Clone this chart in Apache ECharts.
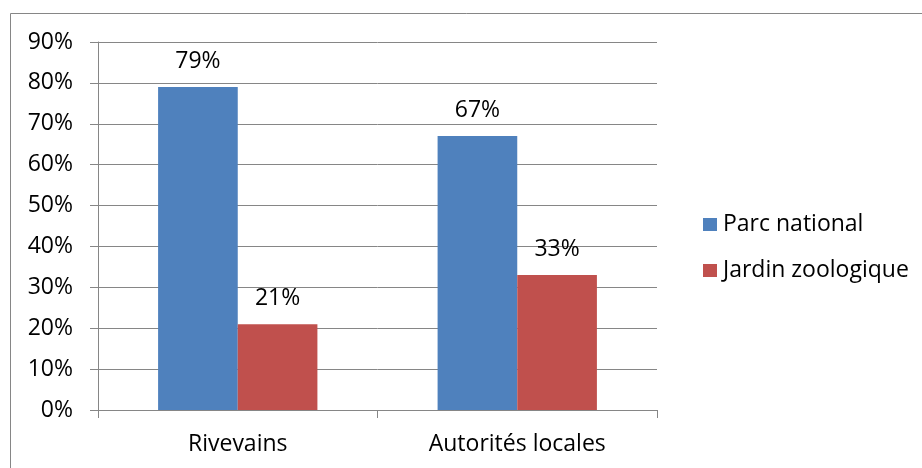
<!DOCTYPE html>
<html>
<head>
<meta charset="utf-8">
<script src="https://cdn.jsdelivr.net/npm/echarts@6/dist/echarts.min.js"></script>
<style>
  html, body { margin: 0; padding: 0; background: #fff; }
  #chart { width: 922px; height: 468px; }
</style>
</head>
<body>
<div id="chart"></div>
<script>
// Survey categories and shares (percent)
const categories = ['Rivevains', 'Autorités locales'];
const parcNational = [79, 67];
const jardinZoologique = [21, 33];
const seriesNames = ['Parc national', 'Jardin zoologique'];

const FONT = '"Open Sans", "Liberation Sans", sans-serif';
const FONT_SIZE = 23;
const AXIS_GREY = '#868686';

const chart = echarts.init(document.getElementById('chart'), null, { renderer: 'canvas' });

const labelStyle = {
  show: true,
  position: 'top',
  distance: 14,
  formatter: p => p.value + '%',
  fontFamily: FONT,
  fontSize: FONT_SIZE,
  color: '#000'
};

chart.setOption({
  animation: false,
  backgroundColor: '#fff',
  graphic: [{
    type: 'rect',
    shape: { x: 10.5, y: 13.5, width: 1000, height: 1000 },
    style: { fill: 'none', stroke: AXIS_GREY, lineWidth: 1 },
    silent: true
  }],
  grid: { left: 98, right: 265, top: 42, bottom: 58 },
  legend: {
    orient: 'vertical',
    left: 698,
    top: 208,
    itemWidth: 14,
    itemHeight: 13,
    itemGap: 23,
    icon: 'rect',
    textStyle: { fontFamily: FONT, fontSize: FONT_SIZE, color: '#000', padding: [0, 0, 0, 1] },
    data: seriesNames
  },
  xAxis: {
    type: 'category',
    data: categories,
    axisLine: { lineStyle: { color: AXIS_GREY, width: 1 } },
    axisTick: { show: true, length: 8, lineStyle: { color: AXIS_GREY } },
    axisLabel: { fontFamily: FONT, fontSize: FONT_SIZE, color: '#000', margin: 23 }
  },
  yAxis: {
    type: 'value',
    min: 0,
    max: 90,
    interval: 10,
    axisLine: { show: true, lineStyle: { color: AXIS_GREY, width: 1 } },
    axisTick: { show: true, length: 8, lineStyle: { color: AXIS_GREY } },
    axisLabel: { formatter: '{value}%', fontFamily: FONT, fontSize: FONT_SIZE, color: '#000', margin: 25 },
    splitLine: { show: true, lineStyle: { color: AXIS_GREY, width: 1 } }
  },
  series: [
    {
      name: seriesNames[0],
      type: 'bar',
      data: parcNational,
      barGap: '0%',
      barCategoryGap: '43%',
      itemStyle: { color: '#4F81BD' },
      label: labelStyle
    },
    {
      name: seriesNames[1],
      type: 'bar',
      data: jardinZoologique,
      itemStyle: { color: '#C0504D' },
      label: labelStyle
    }
  ]
});
</script>
</body>
</html>
